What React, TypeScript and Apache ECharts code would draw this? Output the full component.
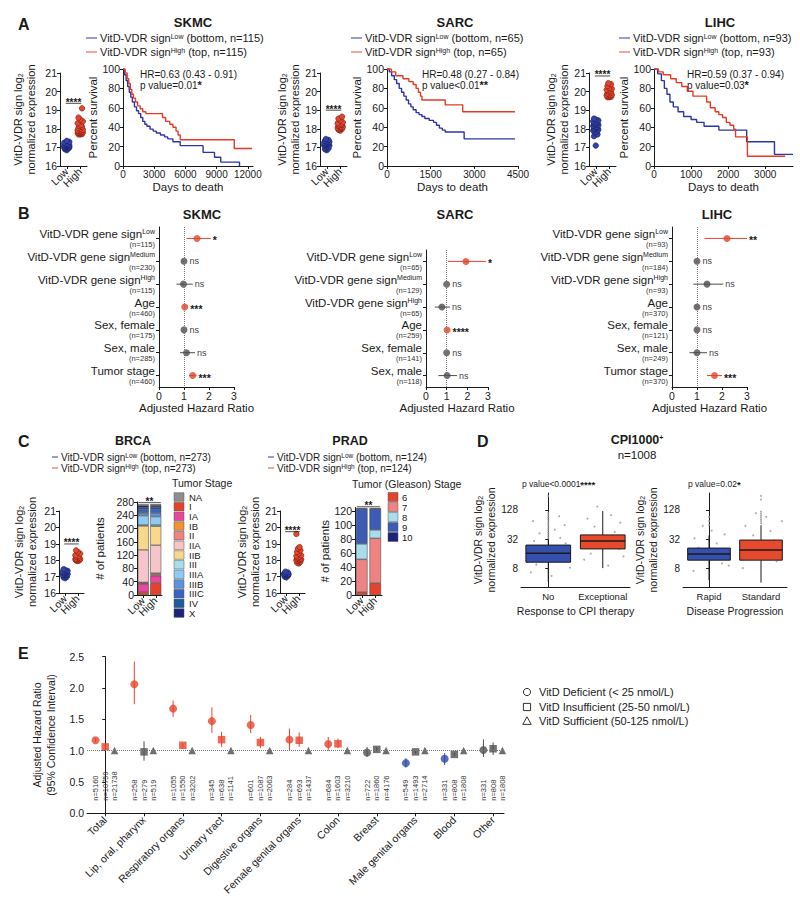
import React, { useEffect, useRef } from "react";
import * as echarts from "echarts";

const FONT = "'Liberation Sans', Arial, Helvetica, sans-serif";
const INK = "#1a1a1a";
const RED = "#e4432b";
const GRAY = "#4d4d4d";
const KM_BLUE = "#2936a6";
const KM_RED = "#e83a22";
const LEG_BLUE = "#4e5db8";
const LEG_RED = "#e26e60";

/* ---------------- Panel A ---------------- */
const kmCohorts = ["SKMC", "SARC", "LIHC"];
const kmGroupN = [115, 65, 93];
const kmHRText = ["HR=0.63 (0.43 - 0.91)", "HR=0.48 (0.27 - 0.84)", "HR=0.59 (0.37 - 0.94)"];
const kmPText = ["p value=0.01", "p value<0.01", "p value=0.03"];
const kmPStars = ["*", "**", "*"];
const kmXMax = [12500, 4500, 3750];
const kmXTicks = [[0, 3000, 6000, 9000, 12000], [0, 1500, 3000, 4500], [0, 1000, 2000, 3000]];

const skmcLowSurvival = [[0,100],[150,94],[300,88],[450,82],[600,76],[750,71],[900,66],[1100,61],[1300,57],[1500,54],[1700,50],[1900,46],[2100,43],[2300,41],[2600,38],[2900,36],[3200,34],[3600,32],[4000,30],[4300,28],[4800,25],[5500,21],[7700,14],[8800,9],[9400,4],[11200,0]];
const skmcHighSurvival = [[0,100],[200,96],[400,90],[550,85],[700,79],[850,74],[1000,70],[1200,66],[1400,62],[1650,59],[1900,56],[2200,54],[3800,50],[4100,46],[4500,43],[4800,40],[5100,36],[5300,32],[5500,27],[10700,18],[12400,18]];
const sarcLowSurvival = [[0,100],[80,97],[160,93],[250,89],[330,85],[420,80],[500,76],[580,72],[660,68],[740,64],[820,61],[900,58],[1000,55],[1100,53],[1200,51],[1300,49],[1450,47],[1600,45],[1700,42],[1800,39],[1900,37],[2000,35],[2650,28],[4400,28]];
const sarcHighSurvival = [[0,100],[150,97],[300,93],[550,90],[750,87],[900,84],[1000,80],[1080,76],[1150,72],[1200,68],[2000,63],[2600,56],[4400,56]];
const lihcLowSurvival = [[0,100],[100,95],[200,88],[280,80],[350,74],[430,66],[520,61],[650,56],[800,51],[1000,48],[1150,45],[1350,41],[1750,37],[2500,25],[3250,12],[3750,12]];
const lihcHighSurvival = [[0,100],[120,97],[250,94],[450,90],[600,86],[750,82],[900,77],[1050,72],[1420,66],[1520,60],[1650,56],[1750,53],[1850,50],[1950,45],[2050,42],[2150,38],[2200,30],[2520,10],[3540,10]];

const skmcLowExpr = [16.85,16.9,16.95,16.95,17.0,17.0,17.0,17.05,17.05,17.05,17.1,17.1,17.1,17.1,17.15,17.15,17.15,17.2,17.2,17.25,17.3,17.35];
const skmcHighExpr = [17.7,17.7,17.72,17.75,17.75,17.78,17.8,17.8,17.82,17.85,17.88,17.9,17.92,17.95,18.0,18.05,18.1,18.15,18.2,18.3,18.4,18.5,18.6,19.1];
const sarcLowExpr = [16.85,16.9,16.95,17.0,17.05,17.1,17.1,17.15,17.15,17.2,17.2,17.25,17.25,17.3,17.3,17.35,17.4,17.45];
const sarcHighExpr = [17.9,17.95,18.0,18.0,18.05,18.05,18.1,18.1,18.15,18.2,18.2,18.25,18.3,18.35,18.45,18.55,18.65];
const lihcLowExpr = [17.1,17.6,17.7,17.8,17.85,17.9,17.95,18.0,18.0,18.05,18.1,18.1,18.15,18.2,18.2,18.25,18.3,18.3,18.35,18.4,18.45,18.5,18.55];
const lihcHighExpr = [19.7,19.7,19.72,19.75,19.78,19.8,19.82,19.85,19.9,19.95,20.0,20.05,20.1,20.15,20.2,20.3,20.4,20.45];

/* ---------------- Panel B ---------------- */
const skmcRowNames = ["VitD-VDR gene sign", "VitD-VDR gene sign", "VitD-VDR gene sign", "Age", "Sex, female", "Sex, male", "Tumor stage"];
const skmcRowSup = ["Low", "Medium", "High", "", "", "", ""];
const skmcRowN = [115, 230, 115, 460, 175, 285, 460];
const skmcHR = [1.52, 1.0, 0.98, 1.03, 1.0, 1.1, 1.35];
const skmcLo = [1.1, 0.97, 0.7, 1.01, 0.98, 0.84, 1.2];
const skmcHi = [2.07, 1.03, 1.35, 1.05, 1.02, 1.44, 1.5];
const skmcSig = ["*", "ns", "ns", "***", "ns", "ns", "***"];

const sarcRowNames = ["VitD-VDR gene sign", "VitD-VDR gene sign", "VitD-VDR gene sign", "Age", "Sex, female", "Sex, male"];
const sarcRowSup = ["Low", "Medium", "High", "", "", ""];
const sarcRowN = [65, 129, 65, 259, 141, 118];
const sarcHR = [1.93, 1.0, 0.77, 1.02, 1.0, 1.02];
const sarcLo = [1.06, 0.98, 0.43, 1.0, 0.98, 0.6];
const sarcHi = [2.9, 1.02, 1.16, 1.04, 1.02, 1.5];
const sarcSig = ["*", "ns", "ns", "****", "ns", "ns"];

const lihcRowNames = ["VitD-VDR gene sign", "VitD-VDR gene sign", "VitD-VDR gene sign", "Age", "Sex, female", "Sex, male", "Tumor stage"];
const lihcRowSup = ["Low", "Medium", "High", "", "", "", ""];
const lihcRowN = [93, 184, 93, 370, 121, 249, 370];
const lihcHR = [2.2, 1.0, 1.4, 1.0, 1.0, 1.0, 1.7];
const lihcLo = [1.3, 0.98, 0.85, 0.98, 0.98, 0.7, 1.4];
const lihcHi = [3.0, 1.02, 2.05, 1.02, 1.02, 1.4, 2.0];
const lihcSig = ["**", "ns", "ns", "ns", "ns", "ns", "***"];

/* ---------------- Panel C ---------------- */
const cCohorts = ["BRCA", "PRAD"];
const cGroupN = [273, 124];
const brcaLowExpr = [16.9,16.95,17.0,17.05,17.1,17.1,17.15,17.2,17.2,17.25,17.25,17.3,17.3,17.35,17.4,17.45];
const brcaHighExpr = [17.95,17.98,18.0,18.0,18.02,18.05,18.05,18.1,18.1,18.15,18.2,18.25,18.3,18.4,18.5,18.6];
const pradLowExpr = [16.95,17.0,17.05,17.1,17.1,17.15,17.15,17.2,17.2,17.25,17.3];
const pradHighExpr = [17.8,17.85,17.9,17.95,18.0,18.0,18.05,18.05,18.1,18.1,18.15,18.2,18.25,18.3,18.4,18.5,18.6,18.7,18.8,19.6];
const groupLabels = ["Low", "High"];

const brcaStages = ["NA", "I", "IA", "IB", "II", "IIA", "IIB", "III", "IIIA", "IIIB", "IIIC", "IV", "X"];
const brcaStageColors = ["#8e8e8e", "#e2432a", "#e8479b", "#f29334", "#ef8283", "#f6c5c9", "#f8d98c", "#a9dcec", "#8ecaf1", "#5d93da", "#3c63c2", "#215a9c", "#1b237a"];
const brcaLowCounts = [4, 8, 25, 3, 2, 98, 72, 3, 28, 8, 10, 6, 6];
const brcaHighCounts = [3, 36, 22, 4, 4, 84, 57, 4, 25, 11, 11, 7, 5];

const pradStages = ["6", "7", "8", "9", "10"];
const pradStageColors = ["#e2432a", "#ef8283", "#a9dcec", "#3b5bb5", "#1b237a"];
const pradLowCounts = [4, 47, 22, 50, 1];
const pradHighCounts = [17, 64, 12, 30, 1];

/* ---------------- Panel D ---------------- */
const dLeftCats = ["No", "Exceptional"];
const dRightCats = ["Rapid", "Standard"];
// [min, Q1, median, Q3, max] normalized expression
const dLeftBoxes = [[4.2, 10.6, 16.3, 24, 31], [8, 20, 29, 39, 122]];
const dRightBoxes = [[4.5, 11.7, 15.6, 20.8, 38], [4, 11.7, 19, 30.5, 62]];
const dLeftPoints = [[-0.32,6.5],[-0.22,9.5],[0.28,11],[0.36,13.5],[-0.38,16],[0.16,19],[-0.1,22],[0.32,26],[-0.26,29],[0.06,5.5],[0.4,8.2],[-0.34,18.5],[0.22,34],[-0.16,42],[0.12,50],[0.3,62],[-0.28,75],[0.2,95],
  [0,33],[0,36],[0,40],[0,44],[0,49],[0,54],[0,60],[0,66],[0,73],[0,81],[0,90],[0,100],[0,111],[0,250],
  [0.66,12],[0.78,16],[1.3,20],[1.36,27],[0.62,35],[1.22,45],[0.85,58],[1.32,70],[0.72,85],[1.15,100],[1.38,14],[0.68,24],[1.1,9],[0.9,150]];
const dRightPoints = [[-0.3,7],[0.25,10],[-0.35,13],[0.33,17],[-0.2,21],[0.15,26],[-0.28,33],[0.3,40],[0.05,48],[-0.12,60],[0.38,9],[-0.4,18],[0,62],[0,75],[0,92],
  [0.65,8],[1.3,11],[0.75,15],[1.35,19],[0.62,25],[1.25,30],[0.85,38],[1.18,47],[0.7,60],[1.4,75],[1.1,92],[0.9,110],
  [1,68],[1,75],[1,82],[1,90],[1,98],[1,108],[1,118],[1,210],[1,250]];

/* ---------------- Panel E ---------------- */
const eCategories = ["Total", "Lip, oral, pharynx", "Respiratory organs", "Urinary tract", "Digestive organs", "Female genital organs", "Colon", "Breast", "Male genital organs", "Blood", "Other"];
const defHR = [1.165, 2.06, 1.67, 1.47, 1.41, 1.175, 1.105, 0.97, 0.80, 0.87, 1.01];
const defLo = [1.13, 1.74, 1.54, 1.28, 1.28, 1.01, 1.0, 0.9, 0.73, 0.77, 0.9];
const defHi = [1.2, 2.42, 1.8, 1.69, 1.57, 1.35, 1.22, 1.06, 0.88, 0.96, 1.18];
const defTone = ["r", "r", "r", "r", "r", "r", "r", "g", "b", "b", "g"];
const insHR = [1.06, 0.98, 1.085, 1.175, 1.13, 1.165, 1.11, 1.02, 0.98, 0.94, 1.03];
const insLo = [1.04, 0.84, 1.04, 1.06, 1.04, 1.06, 1.04, 0.99, 0.95, 0.91, 0.93];
const insHi = [1.08, 1.15, 1.12, 1.3, 1.22, 1.29, 1.19, 1.05, 1.01, 0.97, 1.13];
const insTone = ["r", "g", "r", "r", "r", "r", "r", "g", "g", "g", "g"];
const sufHR = [1, 1, 1, 1, 1, 1, 1, 1, 1, 1, 1];
const defN = [5160, 258, 1055, 345, 601, 284, 684, 722, 549, 331, 331];
const insN = [10759, 279, 1550, 638, 1087, 693, 1603, 1860, 1493, 808, 808];
const sufN = [21738, 519, 3202, 1141, 2063, 1437, 3210, 4176, 2714, 1808, 1808];
const eLegend = ["VitD Deficient (< 25 nmol/L)", "VitD Insufficient (25-50 nmol/L)", "VitD Sufficient (50-125 nmol/L)"];

const E_TONE: Record<string, string> = { r: "#e8452c", g: "#505050", b: "#2f4aa8" };

function buildOption() {
  const grids = [
    { left: 60, top: 73, width: 27, height: 93 },
    { left: 123, top: 69, width: 130, height: 97 },
    { left: 320, top: 73, width: 27, height: 93 },
    { left: 387, top: 69, width: 131, height: 97 },
    { left: 589, top: 73, width: 27, height: 93 },
    { left: 654, top: 69, width: 139, height: 97 },
    { left: 159, top: 227, width: 75, height: 160 },
    { left: 426, top: 250, width: 62, height: 137 },
    { left: 672, top: 227, width: 75, height: 160 },
    { left: 59, top: 511, width: 25, height: 82 },
    { left: 137, top: 502, width: 25, height: 93 },
    { left: 280, top: 511, width: 25, height: 82 },
    { left: 355, top: 507.5, width: 27, height: 87.5 },
    { left: 521, top: 493, width: 109, height: 94 },
    { left: 683, top: 493, width: 104, height: 94 },
    { left: 87, top: 656.6, width: 417, height: 156.7 },
  ];
  const xAxis: any[] = [];
  const yAxis: any[] = [];
  const series: any[] = [];
  const G: any[] = [];

  const aLine = { show: true, lineStyle: { color: INK, width: 1 } };
  const aTick = (extra: any = {}) => ({ show: true, length: 3, lineStyle: { color: INK, width: 1 }, ...extra });
  const aLabel = (size: number, extra: any = {}) => ({ color: INK, fontSize: size, fontFamily: FONT, margin: 3, showMinLabel: true, showMaxLabel: true, hideOverlap: false, ...extra });
  const nStyle = (size: number, extra: any = {}) => ({ color: INK, fontSize: size, fontFamily: FONT, ...extra });
  const noSplit = { show: false };
  const exprName = "VitD-VDR sign log{sub|2}\nnormalized expression";
  const exprNameStyle = (size: number) => nStyle(size, { lineHeight: 13, rich: { sub: { fontSize: 7, verticalAlign: "bottom", lineHeight: 13, fontFamily: FONT, color: INK } } });

  const sigBar = (xi: number, yi: number, x1: number, x2: number, yv: number, text: string, pad: number) => ({
    type: "custom", xAxisIndex: xi, yAxisIndex: yi, clip: false, silent: true, z: 5,
    encode: { x: [0, 1], y: 2 },
    data: [[x1, x2, yv]],
    renderItem: (params: any, api: any) => {
      const a = api.coord([api.value(0), api.value(2)]);
      const b = api.coord([api.value(1), api.value(2)]);
      return {
        type: "group",
        children: [
          { type: "line", shape: { x1: a[0] - pad, y1: a[1], x2: b[0] + pad, y2: b[1] }, style: { stroke: INK, lineWidth: 0.8 } },
          { type: "text", x: (a[0] + b[0]) / 2, y: a[1] + 4, style: { text, fill: INK, fontSize: 10, fontWeight: "bold", fontFamily: FONT, align: "center", verticalAlign: "bottom", textAlign: "center", textVerticalAlign: "bottom" } },
        ],
      };
    },
  });

  /* ---- dot plots (visible category axis + hidden value axis for the swarm) ---- */
  const swarm = [0, -0.13, 0.13, -0.065, 0.065, -0.19, 0.19];
  const dotPlots = [
    { g: 0, low: skmcLowExpr, high: skmcHighExpr, sig: 19.37, gap: 23 },
    { g: 2, low: sarcLowExpr, high: sarcHighExpr, sig: 19.0, gap: 18 },
    { g: 4, low: lihcLowExpr, high: lihcHighExpr, sig: 20.84, gap: 19 },
    { g: 9, low: brcaLowExpr, high: brcaHighExpr, sig: 18.99, gap: 21 },
    { g: 11, low: pradLowExpr, high: pradHighExpr, sig: 19.74, gap: 18 },
  ];
  const hiddenX: any[] = [];
  dotPlots.forEach((d, k) => {
    const hx = 16 + k;
    xAxis[d.g] = {
      gridIndex: d.g, type: "category", data: groupLabels, axisLine: aLine, splitLine: noSplit,
      axisTick: aTick({ alignWithLabel: true }),
      axisLabel: aLabel(10.5, { rotate: 45, margin: 4, interval: 0 }),
    };
    hiddenX.push({ gridIndex: d.g, type: "value", min: 0.5, max: 2.5, show: false });
    yAxis[d.g] = {
      gridIndex: d.g, type: "value", min: 16, max: 21, interval: 1, axisLine: aLine, axisTick: aTick(), splitLine: noSplit,
      axisLabel: aLabel(10.5), name: exprName, nameLocation: "middle", nameGap: d.gap, nameTextStyle: exprNameStyle(11),
    };
    series.push({
      type: "scatter", xAxisIndex: hx, yAxisIndex: d.g, symbolSize: 5.5, silent: true, z: 3,
      data: d.low.map((v, i) => [1 + swarm[i % swarm.length], v]),
      itemStyle: { color: "#3344a8", borderColor: "#141c5c", borderWidth: 0.6, opacity: 1 },
    });
    series.push({
      type: "scatter", xAxisIndex: hx, yAxisIndex: d.g, symbolSize: 5.5, silent: true, z: 3,
      data: d.high.map((v, i) => [2 + swarm[i % swarm.length], v]),
      itemStyle: { color: "#e4472f", borderColor: "#7a1a0e", borderWidth: 0.6, opacity: 1 },
    });
    series.push(sigBar(hx, d.g, 1, 2, d.sig, "****", 1));
  });

  /* ---- KM plots ---- */
  const kmPlots = [
    { g: 1, low: skmcLowSurvival, high: skmcHighSurvival, gap: 21 },
    { g: 3, low: sarcLowSurvival, high: sarcHighSurvival, gap: 20 },
    { g: 5, low: lihcLowSurvival, high: lihcHighSurvival, gap: 21 },
  ];
  kmPlots.forEach((k, i) => {
    xAxis[k.g] = {
      gridIndex: k.g, type: "value", min: 0, max: kmXMax[i], axisLine: aLine, splitLine: noSplit,
      axisTick: aTick({ customValues: kmXTicks[i] }),
      axisLabel: aLabel(10, { customValues: kmXTicks[i], formatter: (v: number) => String(v) }),
      name: "Days to death", nameLocation: "middle", nameGap: 15, nameTextStyle: nStyle(11.5),
    };
    yAxis[k.g] = {
      gridIndex: k.g, type: "value", min: 0, max: 100, interval: 20, axisLine: aLine, axisTick: aTick(), splitLine: noSplit,
      axisLabel: aLabel(10.5), name: "Percent survival", nameLocation: "middle", nameGap: k.gap, nameTextStyle: nStyle(11.5),
    };
    series.push({ type: "line", xAxisIndex: k.g, yAxisIndex: k.g, step: "end", showSymbol: false, silent: true, data: k.low, lineStyle: { color: KM_BLUE, width: 1.4 }, z: 2 });
    series.push({ type: "line", xAxisIndex: k.g, yAxisIndex: k.g, step: "end", showSymbol: false, silent: true, data: k.high, lineStyle: { color: KM_RED, width: 1.4 }, z: 3 });
  });

  /* ---- forest plots ---- */
  const forests = [
    { g: 6, names: skmcRowNames, sup: skmcRowSup, n: skmcRowN, hr: skmcHR, lo: skmcLo, hi: skmcHi, sig: skmcSig },
    { g: 7, names: sarcRowNames, sup: sarcRowSup, n: sarcRowN, hr: sarcHR, lo: sarcLo, hi: sarcHi, sig: sarcSig },
    { g: 8, names: lihcRowNames, sup: lihcRowSup, n: lihcRowN, hr: lihcHR, lo: lihcLo, hi: lihcHi, sig: lihcSig },
  ];
  forests.forEach((f) => {
    const rows = f.names.map((nm, i) => nm + (f.sup[i] ? `{sup|${f.sup[i]}}` : "") + `\n{n|(n=${f.n[i]})}`);
    xAxis[f.g] = {
      gridIndex: f.g, type: "value", min: 0, max: 3, interval: 1, axisLine: aLine, axisTick: aTick(), splitLine: noSplit,
      axisLabel: aLabel(10.5), name: "Adjusted Hazard Ratio", nameLocation: "middle", nameGap: 15, nameTextStyle: nStyle(11.5),
    };
    yAxis[f.g] = {
      gridIndex: f.g, type: "category", inverse: true, data: rows, axisLine: aLine, splitLine: noSplit,
      axisTick: aTick({ alignWithLabel: true }),
      axisLabel: {
        color: INK, fontSize: 11.5, fontFamily: FONT, margin: 4, lineHeight: 12, interval: 0,
        rich: {
          sup: { fontSize: 7, verticalAlign: "top", lineHeight: 12, fontFamily: FONT, color: INK },
          n: { fontSize: 7.5, lineHeight: 9, fontFamily: FONT, color: "#333" },
        },
      },
    };
    const colors = f.sig.map((s) => (s === "ns" ? GRAY : RED));
    series.push({
      type: "custom", xAxisIndex: f.g, yAxisIndex: f.g, clip: false, silent: true, z: 2,
      encode: { x: [1, 2], y: 3 },
      data: f.hr.map((v, i) => [v, f.lo[i], f.hi[i], i]),
      renderItem: (params: any, api: any) => {
        const i = params.dataIndex;
        const c = api.coord([api.value(0), i]);
        const a = api.coord([api.value(1), i]);
        const b = api.coord([api.value(2), i]);
        const ns = f.sig[i] === "ns";
        const endX = Math.max(b[0], c[0] + 3.5) + 2;
        return {
          type: "group",
          children: [
            { type: "line", shape: { x1: a[0], y1: a[1], x2: b[0], y2: b[1] }, style: { stroke: colors[i], lineWidth: 1 } },
            { type: "text", x: endX, y: c[1] + (ns ? 0 : 2), style: { text: f.sig[i], fill: ns ? "#444" : INK, fontSize: ns ? 9 : 10.5, fontWeight: ns ? "normal" : "bold", fontFamily: FONT, align: "left", verticalAlign: "middle", textAlign: "left", textVerticalAlign: "middle" } },
          ],
        };
      },
    });
    series.push({
      type: "scatter", xAxisIndex: f.g, yAxisIndex: f.g, symbolSize: 7, silent: true, z: 3,
      data: f.hr.map((v, i) => ({ value: [v, i], itemStyle: { color: colors[i] } })),
      markLine: { silent: true, symbol: ["none", "none"], label: { show: false }, lineStyle: { type: "dotted", color: "#777", width: 1 }, data: [{ xAxis: 1 }] },
    });
  });

  /* ---- stacked bars ---- */
  const bars = [
    { g: 10, stages: brcaStages, colors: brcaStageColors, low: brcaLowCounts, high: brcaHighCounts, max: 280, ticks: [0, 40, 80, 120, 160, 200, 240, 280], order: [1, 2, 3, 4, 5, 6, 7, 8, 9, 10, 11, 12, 0], barW: 11, gap: 31, sig: 278, key: "brca" },
    { g: 12, stages: pradStages, colors: pradStageColors, low: pradLowCounts, high: pradHighCounts, max: 125, ticks: [0, 20, 40, 60, 80, 100, 120], order: [0, 1, 2, 3, 4], barW: 11.5, gap: 22, sig: 126, key: "prad" },
  ];
  bars.forEach((b) => {
    xAxis[b.g] = {
      gridIndex: b.g, type: "category", data: groupLabels, axisLine: aLine, axisTick: aTick({ alignWithLabel: true }), splitLine: noSplit,
      axisLabel: aLabel(10.5, { rotate: 45, margin: 4, interval: 0 }),
    };
    yAxis[b.g] = {
      gridIndex: b.g, type: "value", min: 0, max: b.max, axisLine: aLine, splitLine: noSplit,
      axisTick: aTick({ customValues: b.ticks }), axisLabel: aLabel(10.5, { customValues: b.ticks }),
      name: "# of patients", nameLocation: "middle", nameGap: b.gap, nameTextStyle: nStyle(11.5),
    };
    b.order.forEach((si) => {
      series.push({
        type: "bar", name: b.key + "-" + b.stages[si], xAxisIndex: b.g, yAxisIndex: b.g, stack: b.key, barWidth: b.barW, silent: true,
        data: [b.low[si], b.high[si]],
        itemStyle: { color: b.colors[si], borderColor: "#3a3a3a", borderWidth: 0.5 },
      });
    });
    series.push(sigBar(b.g, b.g, 0, 1, b.sig, "**", 5));
  });

  /* ---- panel D box plots ---- */
  const boxes = [
    { g: 13, cats: dLeftCats, stats: dLeftBoxes, pts: dLeftPoints, name: "Response to CPI therapy", gap: 19 },
    { g: 14, cats: dRightCats, stats: dRightBoxes, pts: dRightPoints, name: "Disease Progression", gap: 21 },
  ];
  const boxFill = ["#3650ad", "#e54a2d"];
  boxes.forEach((bx) => {
    xAxis[bx.g] = {
      gridIndex: bx.g, type: "value", min: -0.5, max: 1.5, axisLine: aLine, splitLine: noSplit,
      axisTick: { show: false },
      axisLabel: aLabel(9.5, { customValues: [0, 1], formatter: (v: number) => bx.cats[Math.round(v)], margin: 4 }),
      name: bx.name, nameLocation: "middle", nameGap: 18, nameTextStyle: nStyle(10.5),
    };
    yAxis[bx.g] = {
      gridIndex: bx.g, type: "value", min: 1.7, max: 8.17, axisLine: aLine, splitLine: noSplit,
      axisTick: aTick({ customValues: [3, 5, 7] }),
      axisLabel: aLabel(10, { customValues: [3, 5, 7], formatter: (v: number) => String(Math.round(Math.pow(2, v))) }),
      name: exprName, nameLocation: "middle", nameGap: bx.gap, nameTextStyle: exprNameStyle(10.5),
    };
    series.push({
      type: "scatter", xAxisIndex: bx.g, yAxisIndex: bx.g, symbolSize: 2, silent: true, z: 1,
      data: bx.pts.map((p) => [p[0], Math.log2(p[1])]),
      itemStyle: { color: "#9a9a9a", opacity: 0.8 },
    });
    series.push({
      type: "custom", xAxisIndex: bx.g, yAxisIndex: bx.g, silent: true, z: 3, clip: false,
      encode: { x: 0, y: [1, 2, 3, 4, 5] },
      data: bx.stats.map((s, i) => [i, ...s.map((v) => Math.log2(v))]),
      renderItem: (params: any, api: any) => {
        const x = api.value(0);
        const mn = api.coord([x, api.value(1)]);
        const q1 = api.coord([x - 0.41, api.value(2)]);
        const md = api.coord([x, api.value(3)]);
        const q3 = api.coord([x + 0.41, api.value(4)]);
        const mx = api.coord([x, api.value(5)]);
        return {
          type: "group",
          children: [
            { type: "line", shape: { x1: mn[0], y1: mn[1], x2: mn[0], y2: q1[1] }, style: { stroke: INK, lineWidth: 1 } },
            { type: "line", shape: { x1: mx[0], y1: mx[1], x2: mx[0], y2: q3[1] }, style: { stroke: INK, lineWidth: 1 } },
            { type: "rect", shape: { x: q1[0], y: q3[1], width: q3[0] - q1[0], height: q1[1] - q3[1] }, style: { fill: boxFill[params.dataIndex], stroke: INK, lineWidth: 1 } },
            { type: "line", shape: { x1: q1[0], y1: md[1], x2: q3[0], y2: md[1] }, style: { stroke: INK, lineWidth: 1.5 } },
          ],
        };
      },
    });
  });

  /* ---- panel E ---- */
  const eOff = [-0.25, 0, 0.24];
  xAxis[15] = {
    gridIndex: 15, type: "value", min: -0.47, max: 10.28, axisLine: aLine, splitLine: noSplit,
    axisTick: aTick({ customValues: eCategories.map((_, i) => i) }),
    axisLabel: aLabel(10.5, { customValues: eCategories.map((_, i) => i), formatter: (v: number) => eCategories[Math.round(v)], rotate: 45, margin: 5 }),
  };
  yAxis[15] = {
    gridIndex: 15, type: "value", min: 0, max: 2.5, interval: 0.5, axisLine: aLine, axisTick: aTick(), splitLine: noSplit,
    axisLabel: aLabel(10.5, { formatter: (v: number) => v.toFixed(1) }),
    name: "Adjusted Hazard Ratio\n(95% Confidence Interval)", nameLocation: "middle", nameGap: 29, nameTextStyle: nStyle(10.5, { lineHeight: 14 }),
  };
  const eBars: any[] = [];
  const eBarColor: string[] = [];
  eCategories.forEach((_, i) => {
    eBars.push([i + eOff[0], defLo[i], defHi[i]]); eBarColor.push(E_TONE[defTone[i]]);
    eBars.push([i + eOff[1], insLo[i], insHi[i]]); eBarColor.push(E_TONE[insTone[i]]);
  });
  series.push({
    type: "custom", xAxisIndex: 15, yAxisIndex: 15, silent: true, z: 2, encode: { x: 0, y: [1, 2] }, data: eBars,
    renderItem: (params: any, api: any) => {
      const a = api.coord([api.value(0), api.value(1)]);
      const b = api.coord([api.value(0), api.value(2)]);
      return { type: "line", shape: { x1: a[0], y1: a[1], x2: b[0], y2: b[1] }, style: { stroke: eBarColor[params.dataIndex], lineWidth: 1 } };
    },
  });
  series.push({
    type: "scatter", xAxisIndex: 15, yAxisIndex: 15, symbol: "circle", symbolSize: 8, silent: true, z: 3,
    data: defHR.map((v, i) => ({ value: [i + eOff[0], v], itemStyle: { color: E_TONE[defTone[i]] } })),
    markLine: { silent: true, symbol: ["none", "none"], label: { show: false }, lineStyle: { type: "dotted", color: "#777", width: 1 }, data: [{ yAxis: 1 }] },
  });
  series.push({
    type: "scatter", xAxisIndex: 15, yAxisIndex: 15, symbol: "rect", symbolSize: 7.5, silent: true, z: 3,
    data: insHR.map((v, i) => ({ value: [i + eOff[1], v], itemStyle: { color: E_TONE[insTone[i]] } })),
  });
  series.push({
    type: "scatter", xAxisIndex: 15, yAxisIndex: 15, symbol: "triangle", symbolSize: 7.5, silent: true, z: 3,
    data: sufHR.map((v, i) => [i + eOff[2], v]), itemStyle: { color: "#4a4a4a" },
  });
  const nLabels: string[] = [];
  const nPos: number[][] = [];
  eCategories.forEach((_, i) => {
    [defN, insN, sufN].forEach((arr, k) => { nLabels.push("n=" + arr[i]); nPos.push([i + eOff[k], 0.2]); });
  });
  series.push({
    type: "custom", xAxisIndex: 15, yAxisIndex: 15, silent: true, z: 4, clip: false, encode: { x: 0, y: 1 }, data: nPos,
    renderItem: (params: any, api: any) => {
      const p = api.coord([api.value(0), api.value(1)]);
      return { type: "text", x: p[0], y: p[1], rotation: Math.PI / 2, style: { text: nLabels[params.dataIndex], fill: "#333", fontSize: 7.5, fontFamily: FONT, align: "left", verticalAlign: "middle", textAlign: "left", textVerticalAlign: "middle" } };
    },
  });

  /* ---- graphic texts ---- */
  const txt = (x: number, y: number, text: string, o: any = {}) => {
    G.push({
      type: "text", x, y, silent: true, z: 10,
      style: {
        text, fill: o.fill || INK, fontSize: o.size || 11, fontWeight: o.weight || "normal", fontFamily: FONT,
        align: o.align || "left", verticalAlign: o.valign || "middle", textAlign: o.align || "left", textVerticalAlign: o.valign || "middle",
        rich: o.rich || {},
      },
    });
  };
  const ln = (x1: number, y1: number, x2: number, y2: number, stroke: string, w = 1.2) => {
    G.push({ type: "line", silent: true, z: 10, shape: { x1, y1, x2, y2 }, style: { stroke, lineWidth: w } });
  };
  const supRich = (size: number) => ({ sup: { fontSize: size, verticalAlign: "top", fontFamily: FONT } });

  // panel letters
  txt(18, 24, "A", { size: 16, weight: "bold" });
  txt(18, 213, "B", { size: 16, weight: "bold" });
  txt(18, 441, "C", { size: 16, weight: "bold" });
  txt(477, 441, "D", { size: 16, weight: "bold" });
  txt(18, 653, "E", { size: 16, weight: "bold" });

  // panel A headings/legends
  const aTitleX = [193, 455, 720];
  const aLegX = [86, 351, 619];
  const aHRX = [140, 422, 687];
  kmCohorts.forEach((c, i) => {
    txt(aTitleX[i], 22, c, { size: 13, weight: "bold", align: "center" });
    ln(aLegX[i], 38, aLegX[i] + 11, 38, LEG_BLUE);
    ln(aLegX[i], 52, aLegX[i] + 11, 52, LEG_RED);
    txt(aLegX[i] + 14, 38, `VitD-VDR sign{sup|Low} (bottom, n=${kmGroupN[i]})`, { size: 11, rich: supRich(7) });
    txt(aLegX[i] + 14, 52, `VitD-VDR sign{sup|High} (top, n=${kmGroupN[i]})`, { size: 11, rich: supRich(7) });
    txt(aHRX[i], 74, kmHRText[i], { size: 10 });
    txt(aHRX[i], 85, `${kmPText[i]}{b|${kmPStars[i]}}`, { size: 10, rich: { b: { fontSize: 11, fontWeight: "bold", fontFamily: FONT } } });
  });

  // panel B headings
  const bTitleX = [202, 455, 717];
  kmCohorts.forEach((c, i) => txt(bTitleX[i], 214, c, { size: 13, weight: "bold", align: "center" }));

  // panel C headings/legends
  const cTitleX = [133, 350];
  const cLegX = [52, 268];
  cCohorts.forEach((c, i) => {
    txt(cTitleX[i], 441, c, { size: 12.5, weight: "bold", align: "center" });
    ln(cLegX[i], 457, cLegX[i] + 6, 457, LEG_BLUE, 1.2);
    ln(cLegX[i], 468, cLegX[i] + 6, 468, LEG_RED, 1.2);
    txt(cLegX[i] + 9, 457, `VitD-VDR sign{sup|Low} (bottom, n=${cGroupN[i]})`, { size: 10, rich: supRich(6.5) });
    txt(cLegX[i] + 9, 468, `VitD-VDR sign{sup|High} (top, n=${cGroupN[i]})`, { size: 10, rich: supRich(6.5) });
  });
  txt(172, 483, "Tumor Stage", { size: 10.5 });
  brcaStages.forEach((s, i) => {
    const y = 497 + i * 9.67;
    G.push({ type: "rect", silent: true, z: 10, shape: { x: 174, y: y - 4.3, width: 10, height: 8.6 }, style: { fill: brcaStageColors[i], stroke: "#555", lineWidth: 0.5 } });
    txt(189, y, s, { size: 9.5 });
  });
  txt(352, 484, "Tumor (Gleason) Stage", { size: 10.5 });
  pradStages.forEach((s, i) => {
    const y = 497 + i * 10;
    G.push({ type: "rect", silent: true, z: 10, shape: { x: 388, y: y - 4.5, width: 10, height: 9 }, style: { fill: pradStageColors[i], stroke: "#555", lineWidth: 0.5 } });
    txt(402, y, s, { size: 9.5 });
  });

  // panel D headings
  txt(637, 440, "CPI1000{sup|+}", { size: 12.5, weight: "bold", align: "center", rich: { sup: { fontSize: 7, verticalAlign: "top", fontWeight: "bold", fontFamily: FONT } } });
  txt(637, 455, "n=1008", { size: 11.5, align: "center" });
  const starRich = { b: { fontSize: 9.5, fontWeight: "bold", fontFamily: FONT } };
  txt(522, 484, "p value<0.0001{b|****}", { size: 8.5, rich: starRich });
  txt(688, 484, "p value=0.02{b|*}", { size: 8.5, rich: starRich });

  // panel E legend
  const legY = [692, 707, 721];
  G.push({ type: "circle", silent: true, z: 10, shape: { cx: 527, cy: legY[0], r: 3.6 }, style: { fill: "none", stroke: "#333", lineWidth: 1 } });
  G.push({ type: "rect", silent: true, z: 10, shape: { x: 523.4, y: legY[1] - 3.6, width: 7.2, height: 7.2 }, style: { fill: "none", stroke: "#333", lineWidth: 1 } });
  G.push({ type: "polygon", silent: true, z: 10, shape: { points: [[527, legY[2] - 4.2], [522.8, legY[2] + 3.4], [531.2, legY[2] + 3.4]] }, style: { fill: "none", stroke: "#333", lineWidth: 1 } });
  eLegend.forEach((t, i) => txt(539, legY[i], t, { size: 11 }));

  return {
    animation: false,
    backgroundColor: "#ffffff",
    textStyle: { fontFamily: FONT },
    grid: grids,
    xAxis: [...xAxis, ...hiddenX],
    yAxis,
    series,
    graphic: { elements: G },
  };
}

export default function App() {
  const ref = useRef<HTMLDivElement>(null);
  useEffect(() => {
    if (!ref.current) return;
    const chart = echarts.init(ref.current, null, { renderer: "svg" });
    chart.setOption(buildOption() as any);
    return () => chart.dispose();
  }, []);
  return <div ref={ref} style={{ position: "absolute", left: 0, top: 0, width: 800, height: 914, background: "#fff" }} />;
}
